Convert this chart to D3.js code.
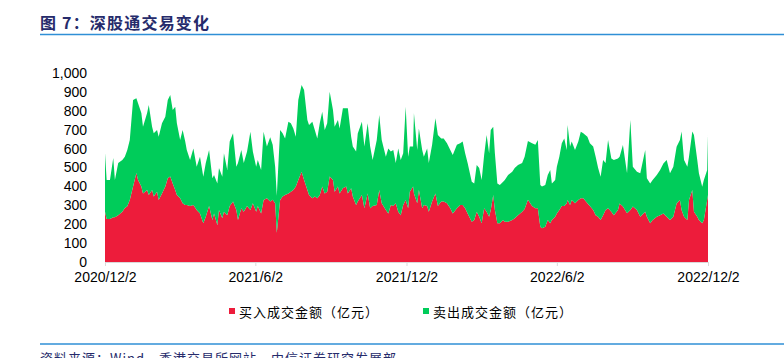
<html>
<script src='https://d3js.org/d3.v7.min.js'></script>
<style>
  body { margin: 0; background: #fff; }
  .tick text { font-family: "Liberation Sans", Arial, sans-serif; font-size: 14px; fill: #000; }
</style>
<body>
<svg width=784 height=358></svg>
<script>
// days since 2020/12/2 for each sample
const startDate = new Date(2020, 11, 2);
const dayOffsets = [0,2,6,10,12,16,21,24,27,30,34,38,40,44,46,51,53,57,59,63,65,69,73,76,79,82,85,87,91,94,97,99,
  103,107,111,115,119,122,126,130,132,136,138,142,144,148,151,155,159,161,165,168,172,176,179,183,185,189,192,196,
  200,203,206,208,212,215,218,222,225,228,231,234,238,241,245,247,251,254,257,260,263,266,269,272,276,278,282,284,
  288,292,294,298,300,304,306,311,314,318,321,324,329,332,335,340,343,346,349,352,355,358,361,364,367,369,373,374,
  378,380,384,386,390,392,396,400,403,407,410,414,418,421,426,430,433,436,439,444,447,450,453,456,459,462,465,467,
  470,472,475,478,482,484,488,493,496,500,505,508,512,517,521,524,527,529,533,536,539,541,545,547,550,553,556,559,
  560,563,565,569,573,576,579,584,587,591,594,597,600,603,606,609,613,616,621,623,627,632,636,639,644,648,654,656,
  660,663,668,672,676,680,684,688,692,696,698,701,705,707,711,713,717,719,723,725,729,730];
const buyValues = [266,228,228,237,237,247,266,286,295,328,399,471,434,399,363,381,355,381,346,372,328,363,399,443,452,416,381,355,337,311,302,302,
  296,302,275,257,205,240,296,222,257,196,275,231,266,248,296,320,275,222,285,266,296,275,311,266,296,257,328,337,
  320,330,311,155,328,346,355,363,372,381,399,434,478,434,381,355,337,346,337,355,399,363,372,452,434,372,399,363,
  390,399,363,390,346,302,320,355,285,363,285,296,302,381,311,275,257,302,296,311,266,248,302,328,285,372,399,363,
  311,381,285,302,296,266,320,363,296,320,320,311,285,257,285,302,302,285,257,213,222,266,240,205,285,266,240,275,
  355,275,205,205,222,213,213,222,231,248,266,280,330,296,285,285,187,178,187,222,205,222,240,257,275,296,296,311,
  328,302,328,311,328,337,337,311,296,275,248,240,222,248,275,285,266,248,275,310,293,258,275,293,275,240,266,240,
  205,222,240,248,257,240,222,240,310,328,275,240,222,328,381,266,240,222,205,222,328,355];
const sellValues = [311,206,206,313,197,277,274,271,298,318,458,396,406,389,353,407,476,335,335,327,335,371,370,414,432,388,441,379,309,388,338,291,
  244,299,229,300,246,284,297,221,203,220,223,220,309,239,341,361,229,302,308,258,288,414,273,238,244,230,361,274,
  340,290,193,195,370,335,299,379,362,326,264,423,459,476,370,370,405,352,317,379,396,335,362,449,370,344,352,344,
  423,414,450,273,265,282,360,387,326,371,326,244,344,397,335,282,344,282,297,213,335,292,273,494,272,239,212,424,
  282,326,308,255,305,258,300,397,376,334,334,317,308,309,335,326,335,290,267,212,194,247,258,229,281,406,335,423,
  361,300,211,202,203,221,247,256,267,265,258,277,310,332,335,361,220,221,220,238,282,194,194,247,282,332,358,282,
  397,309,309,282,309,352,344,352,332,336,309,258,229,292,249,361,282,292,273,247,326,211,476,211,203,229,327,203,
  211,212,220,239,264,300,247,264,300,318,415,300,282,229,309,406,300,247,193,212,159,317];

const seriesNames = ["买入成交金额（亿元）", "卖出成交金额（亿元）"];
const seriesColors = ["#ED1C3B", "#00CC5A"];
const yTicks = [0, 100, 200, 300, 400, 500, 600, 700, 800, 900, 1000];
const xTickLabels = ["2020/12/2", "2021/6/2", "2021/12/2", "2022/6/2", "2022/12/2"];

const svg = d3.select("svg");
const parse = d3.timeParse("%Y/%m/%d");
const tickDates = xTickLabels.map(parse);

const data = dayOffsets.map((d, i) => ({
  date: d3.timeDay.offset(startDate, d),
  buy: buyValues[i],
  sell: sellValues[i]
}));

const x = d3.scaleTime().domain([tickDates[0], tickDates[tickDates.length - 1]]).range([105, 708]);
const y = d3.scaleLinear().domain([0, 1000]).range([262, 73]);

// title + rules
svg.append("text").attr("x", 40).attr("y", 29)
  .style("font-family", "'Noto Sans CJK SC', sans-serif").style("font-weight", "bold")
  .style("font-size", "16px").style("letter-spacing", "1.2px").style("fill", "#262b6b")
  .text("图 7：深股通交易变化");
svg.append("line").attr("x1", 40).attr("x2", 784).attr("y1", 34.5).attr("y2", 34.5)
  .style("stroke", "#2f8fd6").style("stroke-width", 1.5);
svg.append("line").attr("x1", 40).attr("x2", 784).attr("y1", 344).attr("y2", 344)
  .style("stroke", "#2f8fd6").style("stroke-width", 1.5);
svg.append("text").attr("x", 40).attr("y", 363)
  .style("font-family", "'Noto Sans CJK SC', sans-serif").style("font-size", "13px")
  .style("letter-spacing", "1px").style("fill", "#262b6b")
  .text("资料来源：Wind，香港交易所网站，中信证券研究发展部");

// stacked areas
const stack = d3.stack().keys(["buy", "sell"]);
const layers = stack(data);
const area = d3.area()
  .x(d => x(d.data.date))
  .y0(d => y(d[0]))
  .y1(d => y(d[1]));

svg.append("g").selectAll("path")
  .data(layers)
  .enter()
  .append("path")
  .attr("d", area)
  .style("fill", (d, i) => seriesColors[i]);

// X axis
const xAxis = svg.append("g")
  .attr("transform", "translate(0," + y(0) + ")")
  .call(d3.axisBottom(x).tickValues(tickDates).tickSize(4).tickPadding(6)
    .tickFormat(d3.timeFormat("%Y/%-m/%-d")));
xAxis.select(".domain").style("stroke", "#d9d9d9");
xAxis.selectAll(".tick line").style("stroke", "#d9d9d9");

// Y axis
const yAxis = svg.append("g")
  .attr("transform", "translate(105,0)")
  .call(d3.axisLeft(y).tickValues(yTicks).tickSize(0).tickPadding(18).tickFormat(d3.format(",")));
yAxis.select(".domain").remove();

// legend
const legendX = [229, 423];
seriesNames.forEach((name, i) => {
  svg.append("rect").attr("x", legendX[i]).attr("y", 308).attr("width", 6).attr("height", 6)
    .style("fill", seriesColors[i]);
  svg.append("text").attr("x", legendX[i] + 10).attr("y", 317)
    .style("font-family", "'Noto Sans CJK SC', sans-serif").style("font-size", "13px")
    .style("letter-spacing", "1px").style("fill", "#000")
    .text(name);
});
</script>
</body>
</html>
